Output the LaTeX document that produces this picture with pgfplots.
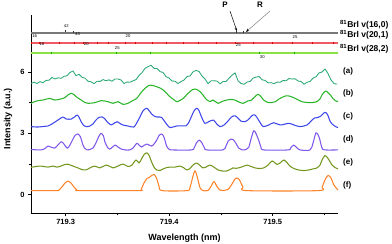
\documentclass[border=0pt]{standalone}
\usepackage{pgfplots}
\pgfplotsset{compat=1.18}
\usepackage{fontspec}
\setmainfont{Liberation Sans}
\usetikzlibrary{arrows.meta}
\definecolor{cA}{RGB}{40,168,115}
\definecolor{cB}{RGB}{40,180,40}
\definecolor{cC}{RGB}{60,70,235}
\definecolor{cD}{RGB}{125,85,235}
\definecolor{cE}{RGB}{115,150,30}
\definecolor{cF}{RGB}{255,130,40}
\definecolor{sGray}{RGB}{120,120,120}
\definecolor{sRed}{RGB}{240,90,100}
\definecolor{sGreen}{RGB}{140,225,70}
\begin{document}
\begin{tikzpicture}
\begin{axis}[
  scale only axis, width=307pt, height=198pt,
  xmin=719.2665, xmax=719.5630, ymin=-0.895, ymax=8.79,
  axis lines=left, axis line style={-, line width=0.8pt},
  xtick={719.3,719.4,719.5}, xticklabels={719.3,719.4,719.5},
  minor xtick={719.35,719.45,719.55},
  ytick={0,3,6}, yticklabels={0,3,6}, minor ytick={1.5,4.5},
  tick align=outside, major tick length=3pt, minor tick length=2pt,
  tick style={black, line width=0.6pt},
  tick label style={font=\bfseries\fontsize{7.5}{8}\selectfont},
  xlabel={Wavelength (nm)}, ylabel={Intensity (a.u.)},
  xlabel style={font=\bfseries\fontsize{9}{10}\selectfont, at={(axis description cs:0.5,-0.125)}, anchor=center},
  ylabel style={font=\bfseries\fontsize{9}{10}\selectfont, at={(axis description cs:-0.075,0.475)}, anchor=center},
  clip=false,
  every axis plot/.append style={line width=1.05pt, line join=round},
]
% stick spectra
\addplot[sGray, line width=1.3pt] coordinates {(719.2665,7.91)(719.5630,7.91)};
\addplot[sRed, line width=1.3pt] coordinates {(719.2665,7.42)(719.5630,7.42)};
\addplot[sGreen, line width=1.3pt] coordinates {(719.2665,6.93)(719.5630,6.93)};
\addplot[only marks, mark=|, mark size=1.2pt, black!80, mark options={line width=0.4pt}] coordinates {(719.3000,8.00)(719.3070,7.95)(719.4651,7.95)(719.4712,7.95)};
\addplot[only marks, mark=|, mark size=1.1pt, red!85!black, mark options={line width=0.4pt}] coordinates {(719.2665,7.42)(719.2749,7.42)(719.2942,7.42)(719.3080,7.42)(719.3167,7.42)(719.3305,7.42)(719.3408,7.42)(719.3570,7.42)(719.3672,7.42)(719.3833,7.42)(719.3972,7.42)(719.4133,7.42)(719.4281,7.42)(719.4458,7.42)(719.4635,7.42)(719.4812,7.42)(719.4995,7.42)(719.5183,7.42)(719.5382,7.42)(719.5585,7.42)};
\addplot[only marks, mark=|, mark size=1.1pt, green!70!black, mark options={line width=0.4pt}] coordinates {(719.2861,6.93)(719.3489,6.93)(719.3821,6.93)(719.4867,6.93)(719.5208,6.93)};
% (a)
\addplot[cA, line width=0.85pt] coordinates {
(719.2665,5.44)(719.2694,5.50)(719.2723,5.44)(719.2752,5.53)(719.2781,5.48)(719.2810,5.59)(719.2839,5.60)(719.2868,5.73)(719.2897,5.66)(719.2926,5.72)(719.2955,5.69)(719.2984,5.79)(719.3013,5.82)(719.3042,5.98)(719.3071,6.05)(719.3100,5.82)(719.3129,5.89)(719.3158,5.74)(719.3187,5.70)(719.3216,5.55)(719.3245,5.52)(719.3274,5.43)(719.3303,5.55)(719.3332,5.54)(719.3361,5.63)(719.3390,5.57)(719.3418,5.62)(719.3447,5.55)(719.3476,5.66)(719.3505,5.66)(719.3534,5.61)(719.3563,5.44)(719.3592,5.51)(719.3621,5.50)(719.3650,5.57)(719.3679,5.63)(719.3708,5.83)(719.3737,5.97)(719.3766,6.18)(719.3795,6.26)(719.3824,6.33)(719.3853,6.18)(719.3882,6.17)(719.3911,6.02)(719.3940,5.98)(719.3969,5.77)(719.3998,5.71)(719.4027,5.56)(719.4056,5.55)(719.4085,5.44)(719.4114,5.53)(719.4143,5.61)(719.4172,5.78)(719.4201,5.81)(719.4230,6.01)(719.4259,6.08)(719.4288,6.03)(719.4317,5.80)(719.4346,5.66)(719.4375,5.43)(719.4404,5.57)(719.4433,5.57)(719.4462,5.56)(719.4491,5.42)(719.4520,5.54)(719.4549,5.54)(719.4578,5.70)(719.4607,5.85)(719.4636,5.96)(719.4665,5.56)(719.4694,5.44)(719.4723,5.40)(719.4752,5.51)(719.4781,5.54)(719.4810,5.70)(719.4839,5.75)(719.4868,5.78)(719.4897,5.62)(719.4926,5.59)(719.4955,5.47)(719.4984,5.48)(719.5013,5.43)(719.5042,5.51)(719.5071,5.50)(719.5100,5.59)(719.5128,5.57)(719.5157,5.68)(719.5186,5.66)(719.5215,5.67)(719.5244,5.56)(719.5273,5.54)(719.5302,5.40)(719.5331,5.50)(719.5360,5.54)(719.5389,5.70)(719.5418,5.77)(719.5447,5.96)(719.5476,6.00)(719.5505,6.15)(719.5534,5.92)(719.5563,5.61)(719.5592,5.43)(719.5621,5.41)};
% (b)
\addplot[cB, smooth] coordinates {
(719.2665,4.47)(719.2700,4.55)(719.2742,4.61)(719.2780,4.63)(719.2845,4.71)(719.2893,4.63)(719.2942,4.67)(719.2990,4.74)(719.3022,4.88)(719.3054,4.96)(719.3080,4.90)(719.3102,4.79)(719.3150,4.63)(719.3186,4.51)(719.3215,4.47)(719.3280,4.50)(719.3344,4.60)(719.3408,4.55)(719.3457,4.47)(719.3505,4.55)(719.3553,4.42)(719.3602,4.47)(719.3640,4.58)(719.3686,4.71)(719.3717,4.92)(719.3749,5.12)(719.3782,5.27)(719.3814,5.36)(719.3843,5.34)(719.3879,5.28)(719.3911,5.22)(719.3943,5.12)(719.3973,4.97)(719.4007,4.79)(719.4041,4.66)(719.4072,4.55)(719.4104,4.61)(719.4136,4.71)(719.4167,4.88)(719.4200,5.04)(719.4225,5.14)(719.4249,5.17)(719.4273,5.13)(719.4297,5.04)(719.4326,4.88)(719.4355,4.68)(719.4394,4.55)(719.4423,4.63)(719.4471,4.47)(719.4510,4.56)(719.4555,4.63)(719.4597,4.66)(719.4635,4.63)(719.4674,4.53)(719.4715,4.47)(719.4756,4.58)(719.4796,4.63)(719.4828,4.80)(719.4857,4.91)(719.4886,4.80)(719.4912,4.63)(719.4961,4.50)(719.5024,4.55)(719.5060,4.68)(719.5089,4.76)(719.5123,4.83)(719.5154,4.83)(719.5186,4.78)(719.5218,4.71)(719.5282,4.55)(719.5363,4.50)(719.5427,4.55)(719.5456,4.68)(719.5476,4.88)(719.5507,5.07)(719.5533,5.00)(719.5556,4.88)(719.5582,4.70)(719.5604,4.60)(719.5630,4.55)};
% (c)
\addplot[cC, smooth] coordinates {
(719.2665,3.33)(719.2732,3.31)(719.2790,3.34)(719.2829,3.36)(719.2877,3.49)(719.2925,3.65)(719.2974,3.80)(719.3006,3.70)(719.3054,3.70)(719.3085,3.80)(719.3112,3.90)(719.3133,3.75)(719.3150,3.56)(719.3176,3.38)(719.3199,3.33)(719.3234,3.36)(719.3263,3.46)(719.3292,3.65)(719.3321,3.78)(719.3350,3.81)(719.3375,3.73)(719.3402,3.56)(719.3440,3.41)(719.3471,3.51)(719.3498,3.57)(719.3524,3.48)(719.3553,3.41)(719.3602,3.36)(719.3659,3.31)(719.3688,3.53)(719.3717,3.80)(719.3746,4.10)(719.3782,4.23)(719.3804,4.12)(719.3830,3.95)(719.3853,3.85)(719.3879,3.80)(719.3906,3.80)(719.3927,3.78)(719.3959,3.56)(719.3988,3.36)(719.4007,3.28)(719.4036,3.31)(719.4072,3.36)(719.4136,3.37)(719.4162,3.37)(719.4186,3.51)(719.4217,3.85)(719.4239,4.09)(719.4265,4.23)(719.4287,4.12)(719.4312,3.80)(719.4345,3.49)(719.4384,3.58)(719.4426,3.65)(719.4456,3.48)(719.4490,3.33)(719.4529,3.41)(719.4567,3.60)(719.4601,3.80)(719.4635,3.86)(719.4664,3.75)(719.4693,3.60)(719.4732,3.57)(719.4770,3.70)(719.4799,3.87)(719.4828,3.90)(719.4857,3.70)(719.4886,3.46)(719.4910,3.33)(719.4961,3.41)(719.5009,3.52)(719.5073,3.41)(719.5154,3.49)(719.5205,3.41)(719.5263,3.33)(719.5331,3.41)(719.5369,3.60)(719.5403,3.75)(719.5437,3.78)(719.5466,3.85)(719.5502,4.03)(719.5529,3.92)(719.5556,3.57)(719.5591,3.38)(719.5630,3.28)};
% (d)
\addplot[cD, smooth] coordinates {
(719.2665,2.21)(719.2761,2.19)(719.2800,2.26)(719.2829,2.38)(719.2858,2.33)(719.2893,2.28)(719.2925,2.43)(719.2957,2.59)(719.2983,2.48)(719.3015,2.27)(719.3041,2.43)(719.3070,2.72)(719.3094,2.92)(719.3119,2.97)(719.3143,2.82)(719.3167,2.43)(719.3186,2.26)(719.3208,2.19)(719.3234,2.21)(719.3263,2.28)(719.3292,2.53)(719.3317,2.82)(719.3341,3.00)(719.3365,2.87)(719.3379,2.58)(719.3403,2.33)(719.3425,2.23)(719.3452,2.33)(719.3479,2.43)(719.3505,2.33)(719.3537,2.23)(719.3573,2.19)(719.3621,2.19)(719.3650,2.28)(719.3686,2.51)(719.3708,2.43)(719.3734,2.33)(719.3756,2.41)(719.3782,2.48)(719.3804,2.43)(719.3830,2.38)(719.3853,2.48)(719.3879,2.67)(719.3901,2.89)(719.3927,2.97)(719.3949,2.82)(719.3975,2.38)(719.3998,2.23)(719.4024,2.19)(719.4217,2.19)(719.4239,2.28)(719.4263,2.53)(719.4290,2.67)(719.4316,2.53)(719.4341,2.28)(719.4362,2.19)(719.4519,2.19)(719.4548,2.38)(719.4570,2.63)(719.4594,2.72)(719.4616,2.70)(719.4640,2.55)(719.4671,2.28)(719.4703,2.19)(719.4741,2.21)(719.4767,2.31)(719.4790,2.72)(719.4816,3.13)(719.4838,2.99)(719.4864,2.67)(719.4886,2.33)(719.4912,2.19)(719.5147,2.19)(719.5171,2.28)(719.5202,2.43)(719.5229,2.31)(719.5263,2.19)(719.5360,2.19)(719.5389,2.53)(719.5418,3.03)(719.5447,2.82)(719.5476,2.28)(719.5504,2.19)(719.5630,2.19)};
% (e)
\addplot[cE, smooth] coordinates {
(719.2665,1.34)(719.2713,1.38)(719.2761,1.40)(719.2829,1.35)(719.2877,1.40)(719.2916,1.35)(719.2954,1.40)(719.2993,1.48)(719.3022,1.49)(719.3070,1.40)(719.3119,1.31)(719.3157,1.23)(719.3196,1.21)(719.3234,1.31)(719.3280,1.40)(719.3328,1.31)(719.3360,1.38)(719.3389,1.45)(719.3428,1.38)(719.3457,1.31)(719.3505,1.40)(719.3553,1.50)(719.3602,1.38)(719.3640,1.45)(719.3679,1.70)(719.3708,1.55)(719.3737,1.79)(719.3761,1.99)(719.3782,2.05)(719.3804,1.94)(719.3830,1.60)(719.3853,1.35)(719.3879,1.21)(719.3911,1.18)(719.3940,1.26)(719.3978,1.33)(719.4007,1.35)(719.4056,1.35)(719.4104,1.40)(719.4142,1.31)(719.4169,1.21)(719.4200,1.28)(719.4229,1.45)(719.4265,1.55)(719.4297,1.43)(719.4326,1.31)(719.4355,1.35)(719.4394,1.45)(719.4432,1.35)(719.4471,1.21)(719.4510,1.16)(719.4555,1.16)(719.4587,1.23)(719.4616,1.31)(719.4645,1.29)(719.4683,1.33)(719.4722,1.40)(719.4751,1.45)(719.4790,1.38)(719.4828,1.31)(719.4867,1.28)(719.4912,1.31)(719.4954,1.45)(719.4993,1.65)(719.5022,1.55)(719.5041,1.48)(719.5070,1.55)(719.5106,1.70)(719.5137,1.57)(719.5166,1.40)(719.5205,1.28)(719.5250,1.21)(719.5302,1.18)(719.5347,1.21)(719.5389,1.26)(719.5427,1.31)(719.5456,1.45)(719.5476,1.70)(719.5502,1.91)(719.5524,1.84)(719.5543,1.70)(719.5572,1.45)(719.5601,1.33)(719.5630,1.26)};
% (f)
\addplot[cF, smooth] coordinates {
(719.2665,0.20)(719.2906,0.20)(719.2935,0.23)(719.2964,0.38)(719.2993,0.57)(719.3022,0.66)(719.3051,0.57)(719.3080,0.38)(719.3109,0.23)(719.3138,0.20)(719.3698,0.20)(719.3727,0.25)(719.3756,0.57)(719.3785,0.79)(719.3814,0.87)(719.3833,0.95)(719.3853,0.99)(719.3877,0.82)(719.3901,0.43)(719.3930,0.20)(719.4171,0.20)(719.4200,0.35)(719.4225,0.82)(719.4249,1.17)(719.4273,0.82)(719.4297,0.35)(719.4326,0.20)(719.4374,0.21)(719.4403,0.40)(719.4432,0.64)(719.4461,0.40)(719.4490,0.23)(719.4529,0.21)(719.4567,0.25)(719.4606,0.52)(719.4635,0.77)(719.4654,0.82)(719.4679,0.72)(719.4712,0.38)(719.4751,0.20)(719.5437,0.20)(719.5476,0.38)(719.5504,0.72)(719.5533,0.94)(719.5562,0.82)(719.5591,0.47)(719.5630,0.23)};
% stick labels
\begin{scope}[every node/.style={font=\fontsize{4.2}{4.5}\selectfont, inner sep=0.5pt}]
\node at (axis cs:719.3006,8.26) {42};
\node[anchor=west] at (axis cs:719.3085,7.86) {43};
\node at (axis cs:719.2700,7.76) {16};
\node at (axis cs:719.3602,7.76) {20};
\node at (axis cs:719.5215,7.71) {25};
\node at (axis cs:719.2771,7.35) {18};
\node at (axis cs:719.3199,7.35) {20};
\node at (axis cs:719.4667,7.32) {25};
\node at (axis cs:719.3498,7.19) {25};
\node at (axis cs:719.4899,6.72) {30};
\end{scope}
% P and R
\node[font=\bfseries\fontsize{8}{9}\selectfont] at (axis cs:719.4539,9.28) {P};
\node[font=\bfseries\fontsize{8}{9}\selectfont] at (axis cs:719.4877,9.28) {R};
\draw[black, line width=0.5pt, -{Stealth[length=3.5pt,width=2.5pt]}] (axis cs:719.4587,8.98) -- (axis cs:719.4654,8.00);
\draw[gray, line width=0.5pt, -{Stealth[length=3.5pt,width=2.5pt,color=black]}] (axis cs:719.4973,8.98) -- (axis cs:719.4741,7.96);
% right labels
\begin{scope}[every node/.style={font=\bfseries\fontsize{8.5}{9}\selectfont, anchor=west, inner sep=0pt}]
\node at (axis cs:719.5649,8.30) {\textsuperscript{81}Brl v(16,0)};
\node at (axis cs:719.5649,7.84) {\textsuperscript{81}Brl v(20,1)};
\node at (axis cs:719.5649,7.12) {\textsuperscript{81}Brl v(28,2)};
\end{scope}
\begin{scope}[every node/.style={font=\bfseries\fontsize{8}{9}\selectfont, anchor=west, inner sep=0pt}]
\node at (axis cs:719.5678,6.05) {(a)};
\node at (axis cs:719.5678,4.96) {(b)};
\node at (axis cs:719.5678,3.85) {(c)};
\node at (axis cs:719.5678,2.68) {(d)};
\node at (axis cs:719.5678,1.58) {(e)};
\node at (axis cs:719.5678,0.43) {(f)};
\end{scope}
\end{axis}
\pgfresetboundingbox
\path (current axis.south west) ++(-31pt,-31pt) rectangle ++(392pt,244pt);
\end{tikzpicture}
\end{document}
